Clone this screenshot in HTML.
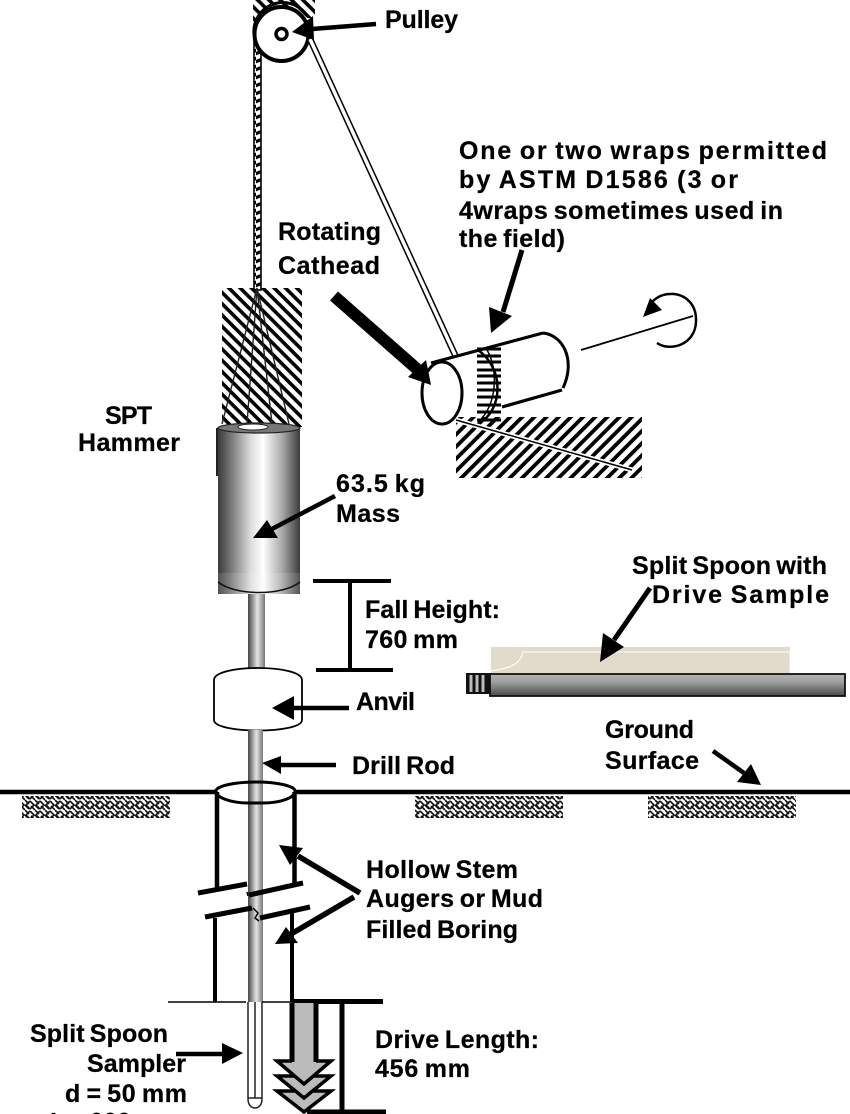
<!DOCTYPE html>
<html><head><meta charset="utf-8"><style>
html,body{margin:0;padding:0;background:#fff}
svg{display:block}
text{font-family:"Liberation Sans",sans-serif;font-weight:bold;font-size:25px;fill:#000;stroke:#000;stroke-width:.25px;word-spacing:-2px}
</style></head><body>
<svg xmlns="http://www.w3.org/2000/svg" width="850" height="1114" viewBox="0 0 850 1114">
<defs>
<pattern id="h1" width="8" height="8" patternUnits="userSpaceOnUse" patternTransform="rotate(45)"><rect width="8" height="8" fill="#fff"/><rect y="0" width="8" height="3.6" fill="#000"/></pattern>
<pattern id="h2" width="8.6" height="8.6" patternUnits="userSpaceOnUse" patternTransform="rotate(-45)"><rect width="8.6" height="8.6" fill="#fff"/><rect y="0" width="8.6" height="3.8" fill="#000"/></pattern>
<pattern id="hz" width="10" height="10" patternUnits="userSpaceOnUse"><rect width="10" height="10" fill="#fff"/><path d="M0 1L4 5L0 9M5 0L9 4M10 1L6 5L10 9M5 10L1 6M5 5L9 9" stroke="#111" stroke-width="1.6" fill="none"/></pattern>
<pattern id="rope" width="8" height="8" patternUnits="userSpaceOnUse"><rect width="8" height="8" fill="#fff"/><path d="M-1 6L9 2" stroke="#000" stroke-width="3.2"/></pattern>
<linearGradient id="cyl" x1="0" x2="1" y1="0" y2="0"><stop offset="0" stop-color="#3a3a3a"/><stop offset=".18" stop-color="#808080"/><stop offset=".4" stop-color="#ddd"/><stop offset=".55" stop-color="#fff"/><stop offset=".78" stop-color="#aaa"/><stop offset="1" stop-color="#3c3c3c"/></linearGradient>
<linearGradient id="rod" x1="0" x2="1" y1="0" y2="0"><stop offset="0" stop-color="#444"/><stop offset=".55" stop-color="#e4e4e4"/><stop offset="1" stop-color="#777"/></linearGradient>
<linearGradient id="spoon" x1="0" x2="0" y1="0" y2="1"><stop offset="0" stop-color="#b5b5b5"/><stop offset=".35" stop-color="#a0a0a0"/><stop offset="1" stop-color="#4a4a4a"/></linearGradient>
</defs>

<!-- hatch areas -->
<path d="M253 0H315V18H303A27 27 0 0 0 253 30Z" fill="url(#h1)"/>
<rect x="222" y="288" width="80" height="139" fill="url(#h1)"/>
<rect x="456" y="417" width="186" height="61" fill="url(#h2)"/>
<rect x="22" y="796" width="148" height="22" fill="url(#hz)"/>
<rect x="415" y="796" width="148" height="22" fill="url(#hz)"/>
<rect x="648" y="796" width="148" height="22" fill="url(#hz)"/>

<!-- rope -->
<rect x="254" y="34" width="7" height="256" fill="url(#rope)" stroke="#000" stroke-width="1.6"/>
<path d="M254 34A29 29 0 0 1 306 14" fill="none" stroke="#000" stroke-width="3"/>
<path d="M257 288L222 424M257 288L247 424M257 288L272 424M257 288L289 424" stroke="#222" stroke-width="1.4" fill="none"/>

<!-- pulley -->
<circle cx="281.500" cy="34" r="27" fill="#fff" stroke="#000" stroke-width="4"/>
<circle cx="281.500" cy="34" r="5.500" fill="#fff" stroke="#000" stroke-width="3.500"/>
<path d="M310 39L456 357" stroke="#000" stroke-width="6.500" fill="none"/>
<path d="M310 39L456 357" stroke="#fff" stroke-width="3.500" fill="none"/>
<path d="M376 24L312 29" stroke="#000" stroke-width="4.500"/>
<polygon points="292,32 313,16 314,40" fill="#000"/>

<!-- cathead -->
<g fill="none" stroke="#000">
<path d="M431 363L543 333" stroke-width="3.200"/>
<path d="M502 407L562 390" stroke-width="3.200"/>
<path d="M543 333C563 335 576 360 563 388" stroke-width="3"/>
<ellipse cx="442" cy="393" rx="20" ry="31" stroke-width="3" fill="#fff"/>
<path d="M478 350C504 368 504 410 478 424" stroke-width="2.500"/>
<path d="M487 350C498 368 498 405 478 422" stroke-width="1.500"/>
<path d="M477 349H501M477 356H501M477 362H501M477 370H501M477 376H501M477 383H501M477 390H501M477 397H501M477 405H501M477 412H501M477 420H501" stroke-width="3"/>
<path d="M456 420L632 470" stroke="#fff" stroke-width="5"/>
<path d="M456 420L632 470" stroke-width="1.500"/>
<path d="M581 350L693 316" stroke-width="1.800"/>
<path d="M657 343C670 352 695 345 696 322C697 300 680 293 670 294C660 294 653 300 650 305" stroke-width="2.500"/>
</g>
<polygon points="643,317 650,298 662,310" fill="#000"/>
<path d="M522 250L503 312" stroke="#000" stroke-width="5"/>
<polygon points="491,333 489,307 512,316" fill="#000"/>
<path d="M334 296L417 369" stroke="#000" stroke-width="12"/>
<polygon points="431,385 408,377 426,360" fill="#000"/>

<!-- hammer -->
<rect x="218" y="427" width="82" height="167" fill="url(#cyl)"/>
<rect x="218" y="573" width="82" height="21" fill="#fff" opacity=".12"/>
<ellipse cx="259" cy="428" rx="41" ry="5" fill="#777" stroke="#222" stroke-width="1.200"/>
<ellipse cx="253" cy="427" rx="15" ry="3" fill="#fff" stroke="#222" stroke-width="1"/>
<path d="M217 428V476" stroke="#222" stroke-width="2"/>
<path d="M218 582C235 596 283 596 300 582" fill="none" stroke="#111" stroke-width="1.500"/>
<path d="M335 496L270 530" stroke="#000" stroke-width="4.500"/>
<polygon points="253,538 267,520 278,538" fill="#000"/>

<!-- upper rod & anvil -->
<rect x="248" y="594" width="17" height="80" fill="url(#rod)"/>
<path d="M214 680C214 664 302 664 302 680V720C302 734 214 734 214 720Z" fill="#fff" stroke="#000" stroke-width="1.800"/>
<path d="M349 708H292" stroke="#000" stroke-width="4.500"/>
<polygon points="272,708 294,696 294,720" fill="#000"/>

<!-- fall height bracket -->
<path d="M313 581H391M316 670H393M350 581V670" stroke="#000" stroke-width="4" fill="none"/>

<!-- lower rod -->
<rect x="248" y="730" width="15" height="272" fill="url(#rod)"/>
<path d="M336 765H280" stroke="#000" stroke-width="4.500"/>
<polygon points="262,763 281,756 281,774" fill="#000"/>

<!-- ground -->
<path d="M0 792H216M294 792H850" stroke="#000" stroke-width="4.500"/>

<!-- auger -->
<g fill="none" stroke="#000">
<path d="M248 803C232 803 216 798 216 791C216 786 235 782 256 782C277 782 295 786 295 791C295 798 280 803 263 803" stroke-width="3"/>
<path d="M248 803H263" stroke-width="3"/>
<path d="M217 792V888" stroke-width="4.500"/>
<path d="M294.500 792V883" stroke-width="4.500"/>
<path d="M198 893L247 884" stroke-width="5"/>
<path d="M249 895L303 883" stroke-width="5"/>
<path d="M205 917L252 908" stroke-width="5"/>
<path d="M260 918L310 907" stroke-width="5"/>
<path d="M215 918V1002" stroke-width="4"/>
<path d="M292 913V1002" stroke-width="4"/>
<path d="M248 896L247 892M253 908L258 913L255 918L259 921" stroke-width="1.500"/>
</g>
<path d="M360 893L298 856M354 897L291 934" stroke="#000" stroke-width="5.500" fill="none"/>
<polygon points="279,845 303,848 290,865" fill="#000"/>
<polygon points="275,944 298,943 286,927" fill="#000"/>
<path d="M168 1002H246M262 1002H292" stroke="#000" stroke-width="1.500"/>

<!-- sampler -->
<rect x="248" y="1002" width="14" height="96" fill="#fff"/>
<path d="M248 1002V1099C248 1111 262 1111 262 1099V1002M255 1002V1098M248 1098H262" fill="none" stroke="#222" stroke-width="1.500"/>
<path d="M176 1054H224" stroke="#000" stroke-width="4.500"/>
<polygon points="243,1053 222,1043 222,1064" fill="#000"/>

<!-- drive length -->
<path d="M292 1001.500H383M307 1112H386M342 1002V1114" stroke="#000" stroke-width="5" fill="none"/>
<polygon points="277,1091 331,1091 304,1112" fill="#bbb" stroke="#000" stroke-width="3.500"/>
<polygon points="277,1076 331,1076 304,1098" fill="#bbb" stroke="#000" stroke-width="3.500"/>
<polygon points="277,1061 331,1061 304,1084" fill="#bbb" stroke="#000" stroke-width="3.500"/>
<rect x="292" y="1003" width="24" height="62" fill="#bbb"/>
<path d="M292 1003V1062M316 1003V1062" stroke="#000" stroke-width="5"/>

<!-- split spoon -->
<rect x="491" y="647" width="299" height="26" fill="#e2dbcb"/>
<path d="M491 671C510 668 520 665 523 652H790V672" fill="none" stroke="#fff" stroke-width="1"/>
<rect x="490" y="674" width="355" height="22" fill="url(#spoon)" stroke="#111" stroke-width="1.800"/>
<rect x="466" y="673" width="24" height="21" fill="#111"/>
<path d="M471 675V692M477 675V692M483 675V692" stroke="#bbb" stroke-width="3"/>
<path d="M650 588L614 640" stroke="#000" stroke-width="5"/>
<polygon points="600,662 603,633 624,647" fill="#000"/>

<!-- ground arrow -->
<path d="M713 751L744 773" stroke="#000" stroke-width="4.500"/>
<polygon points="761,785 737,782 751,764" fill="#000"/>

<!-- text -->
<text x="385" y="28" textLength="73">Pulley</text>
<text x="459" y="159" textLength="368">One or two wraps permitted</text>
<text x="459" y="188" textLength="279">by ASTM D1586 (3 or</text>
<text x="459" y="219" textLength="324">4wraps sometimes used in</text>
<text x="459" y="247" textLength="106">the field)</text>
<text x="278" y="240" textLength="103">Rotating</text>
<text x="278" y="274" textLength="102">Cathead</text>
<text x="105" y="424" textLength="47">SPT</text>
<text x="78" y="451" textLength="102">Hammer</text>
<text x="336" y="492" textLength="89">63.5 kg</text>
<text x="336" y="522" textLength="64">Mass</text>
<text x="365" y="618" textLength="135">Fall Height:</text>
<text x="365" y="648" textLength="93">760 mm</text>
<text x="356" y="710" textLength="59">Anvil</text>
<text x="352" y="774" textLength="103">Drill Rod</text>
<text x="632" y="574" textLength="195">Split Spoon with</text>
<text x="652" y="603" textLength="177">Drive Sample</text>
<text x="605" y="738" textLength="89">Ground</text>
<text x="605" y="769" textLength="94">Surface</text>
<text x="366" y="878" textLength="152">Hollow Stem</text>
<text x="366" y="907" textLength="177">Augers or Mud</text>
<text x="366" y="938" textLength="152">Filled Boring</text>
<text x="375" y="1048" textLength="164">Drive Length:</text>
<text x="375" y="1077" textLength="95">456 mm</text>
<text x="30" y="1042" textLength="138">Split Spoon</text>
<text x="87" y="1072" textLength="99">Sampler</text>
<text x="65" y="1102" textLength="122">d = 50 mm</text>
<text x="50" y="1130.500">L = 600 mm</text>
</svg>
</body></html>
